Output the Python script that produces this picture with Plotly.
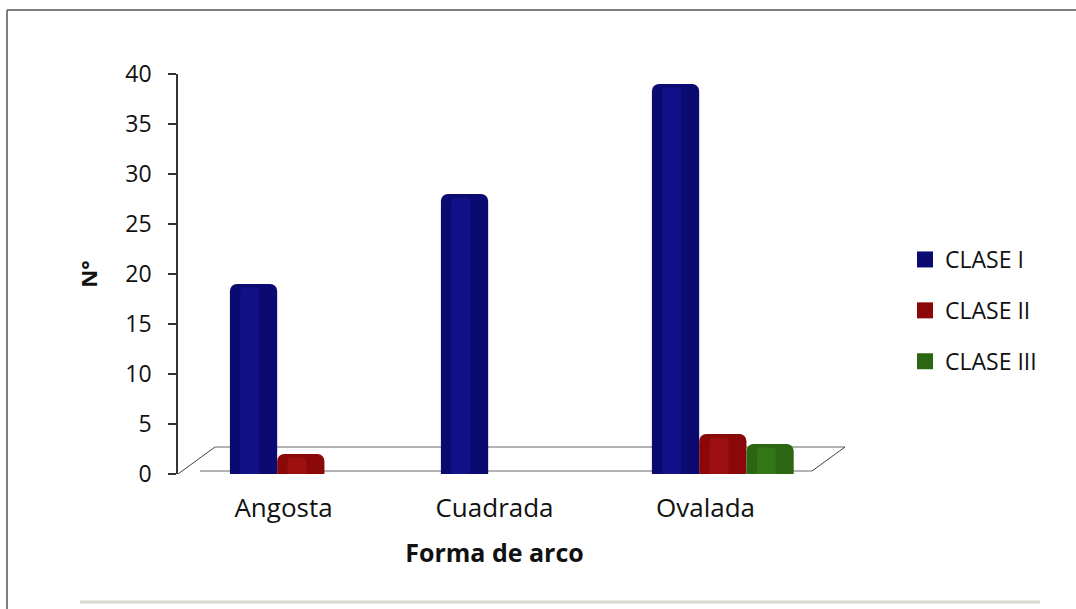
import plotly.graph_objects as go

# Chart data
categorias = ["Angosta", "Cuadrada", "Ovalada"]
clase_i = [19, 28, 39]
clase_ii = [2, 0, 4]
clase_iii = [0, 0, 3]
series_nombres = ["CLASE I", "CLASE II", "CLASE III"]
y_ticks = [0, 5, 10, 15, 20, 25, 30, 35, 40]

# Styling
colores = ["#0a0a70", "#8a0808", "#2b6612"]
brillos = ["#1c1ca6", "#b51a1a", "#3f8a1f"]
FONT = "Open Sans"
W, H = 1076, 609
PLOT_L, PLOT_R, PLOT_T, PLOT_B = 178, 811, 74, 474
BAR_W = 0.224
offsets = [-0.254, -0.030, 0.194]


def px_x(p):
    return (p - PLOT_L) / (PLOT_R - PLOT_L)


def px_y(p):
    return (PLOT_B - p) / (PLOT_B - PLOT_T)


fig = go.Figure()

valores = [clase_i, clase_ii, clase_iii]
for nombre, vals, col, off in zip(series_nombres, valores, colores, offsets):
    fig.add_trace(go.Bar(
        x=categorias, y=vals, name=nombre, showlegend=False,
        marker=dict(color=col, line=dict(width=0), cornerradius=7),
        width=BAR_W, offset=off,
    ))

# lighter core on each cylinder for a rounded look
for nombre, vals, col, off in zip(series_nombres, valores, brillos, offsets):
    fig.add_trace(go.Bar(
        x=categorias, y=[v - 0.35 if v > 0 else 0 for v in vals],
        marker=dict(color=col, opacity=0.45, line=dict(width=0), cornerradius=4),
        width=BAR_W * 0.4, offset=off + BAR_W * 0.22,
        showlegend=False, hoverinfo="skip",
    ))

# square legend keys
for nombre, col in zip(series_nombres, colores):
    fig.add_trace(go.Scatter(
        x=[None], y=[None], mode="markers", name=nombre, legendgroup=nombre,
        marker=dict(symbol="square", size=16, color=col),
    ))

shapes = []
floor_col = "#9a9a9a"
# floor of the plot area
shapes.append(dict(type="line", xref="paper", yref="paper",
                   x0=px_x(215), y0=px_y(447), x1=px_x(845), y1=px_y(447),
                   line=dict(color=floor_col, width=1.5), layer="below"))
shapes.append(dict(type="line", xref="paper", yref="paper",
                   x0=px_x(200), y0=px_y(471), x1=px_x(812), y1=px_y(471),
                   line=dict(color=floor_col, width=1.5), layer="below"))
shapes.append(dict(type="line", xref="paper", yref="paper",
                   x0=px_x(178), y0=px_y(474), x1=px_x(215), y1=px_y(447),
                   line=dict(color="#444", width=1)))
shapes.append(dict(type="line", xref="paper", yref="paper",
                   x0=px_x(812), y0=px_y(471), x1=px_x(845), y1=px_y(447),
                   line=dict(color="#444", width=1)))
# outer chart frame
shapes.append(dict(type="line", xref="paper", yref="paper",
                   x0=px_x(7), y0=px_y(10), x1=px_x(1076), y1=px_y(10),
                   line=dict(color="#555", width=1.5)))
shapes.append(dict(type="line", xref="paper", yref="paper",
                   x0=px_x(7), y0=px_y(10), x1=px_x(7), y1=px_y(609),
                   line=dict(color="#555", width=1.5)))
shapes.append(dict(type="line", xref="paper", yref="paper",
                   x0=px_x(80), y0=px_y(602), x1=px_x(1040), y1=px_y(602),
                   line=dict(color="#d8d8cc", width=3)))

fig.update_layout(
    width=W, height=H,
    margin=dict(l=PLOT_L, r=W - PLOT_R, t=PLOT_T, b=H - PLOT_B, pad=0),
    paper_bgcolor="white", plot_bgcolor="white",
    barmode="overlay",
    font=dict(family=FONT, color="#111"),
    showlegend=True,
    legend=dict(
        x=px_x(905), y=px_y(238), xanchor="left", yanchor="top",
        font=dict(family=FONT, size=23, color="#111"),
        traceorder="grouped", tracegroupgap=18,
        itemwidth=30, bgcolor="rgba(0,0,0,0)",
    ),
    xaxis=dict(
        type="category", showline=False, showgrid=False, zeroline=False,
        ticks="", tickfont=dict(family=FONT, size=26, color="#111"),
        ticklabelstandoff=16,
        title=dict(text="<b>Forma de arco</b>",
                   font=dict(family=FONT, size=25, color="#111"), standoff=20),
        range=[-0.5, 2.5],
    ),
    yaxis=dict(
        range=[0, 40], tickvals=y_ticks, showgrid=False, zeroline=False,
        showline=True, linecolor="#333", linewidth=1.5,
        ticks="outside", ticklen=8, tickcolor="#333", tickwidth=1.5,
        tickfont=dict(family=FONT, size=23, color="#111"),
        ticklabelstandoff=12,
        title=dict(text="<b>N°</b>",
                   font=dict(family=FONT, size=22, color="#111"), standoff=22),
    ),
    shapes=shapes,
)

fig.write_html("out.html")
